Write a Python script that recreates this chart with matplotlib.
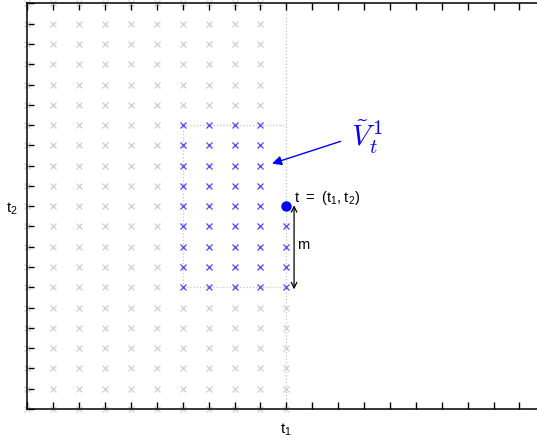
"""Lattice sketch: past window V_t^1 around the point t = (t1, t2)."""
import numpy as np
import matplotlib.pyplot as plt

plt.rcParams['font.family'] = ['Liberation Sans', 'DejaVu Sans']

# ---- data ----
grid_cols = list(range(0, 11))      # observed columns
grid_rows = list(range(0, 21))      # observed rows
t1, t2 = 10, 10                     # the point t
m = 4                               # window depth
win_cols = [6, 7, 8, 9]             # full columns of the window
win_rows = list(range(6, 15))       # rows 6..14
cur_rows = [6, 7, 8, 9]             # rows below t in column t1
x_max, y_max = 20, 20

# build point sets
blue = [(c, r) for c in win_cols for r in win_rows] + [(t1, r) for r in cur_rows]
blue_set = set(blue)
grey = [(c, r) for c in grid_cols for r in grid_rows
        if (c, r) not in blue_set and not (c == t1 and r >= t2)]

fig = plt.figure(figsize=(5.37, 4.38), dpi=100)
W, H = 537, 438
x0, y0 = 27.3, 409.0
dx, dy = 25.9, 20.28
ax = fig.add_axes([x0 / W, (H - y0) / H, dx * x_max / W, dy * y_max / H])
ax.set_xlim(0, x_max)
ax.set_ylim(0, y_max)

# dotted guides
gc = '#c4c4c4'
ax.plot([t1, t1], [0, y_max], ':', color=gc, lw=0.9, zorder=1)
ax.plot([win_cols[0], t1], [win_rows[-1], win_rows[-1]], ':', color=gc, lw=0.9, zorder=1)
ax.plot([win_cols[0], t1], [win_rows[0], win_rows[0]], ':', color=gc, lw=0.9, zorder=1)
ax.plot([win_cols[0], win_cols[0]], [win_rows[0], win_rows[-1]], ':', color=gc, lw=0.9, zorder=1)

gx, gy = zip(*grey)
ax.plot(gx, gy, 'x', color='#cfcfcf', ms=4.8, mew=0.9, ls='none', clip_on=False, zorder=2)
bx, by = zip(*blue)
ax.plot(bx, by, 'x', color='#4848ff', ms=4.8, mew=0.9, ls='none', clip_on=False, zorder=2)

# the point t
ax.plot([t1], [t2], 'o', color='#0000ff', ms=6.5, zorder=4)
ax.text(t1 + 0.3, t2 + 0.4, '$\\mathregular{t\\ =\\ (t_1,t_2)}$', fontsize=10.5, va='center', ha='left')

# depth arrow m
ax.annotate('', xy=(t1 + 0.3, t2 + 0.05), xytext=(t1 + 0.3, t2 - m - 0.1),
            arrowprops=dict(arrowstyle='<->', color='black', lw=0.9,
                            shrinkA=0, shrinkB=0, mutation_scale=10))
ax.text(t1 + 0.4, t2 - m + 2.1, 'm', fontsize=10.5, va='center', ha='left')

# window label
ax.annotate('', xy=(9.45, 12.1), xytext=(12.1, 13.2),
            arrowprops=dict(arrowstyle='-|>', color='#0000ff', lw=1.0,
                            shrinkA=0, shrinkB=0, mutation_scale=14))
ax.text(12.5, 13.4, '$\\tilde{V}_t^{\\,1}$', fontsize=21, color='#0000ff', va='center', ha='left',
        math_fontfamily='cm')

# axes styling
ax.set_xticks(range(0, x_max + 1))
ax.set_yticks(range(0, y_max + 1))
ax.set_xticklabels(['$\\mathregular{t_1}$' if v == t1 else '' for v in range(0, x_max + 1)], fontsize=11)
ax.set_yticklabels(['$\\mathregular{t_2}$' if v == t2 else '' for v in range(0, y_max + 1)], fontsize=11)
ax.tick_params(axis='x', pad=9)
ax.tick_params(axis='y', pad=7)
ax.tick_params(direction='in', length=5, width=1.0, top=True, right=False)
for s in ax.spines.values():
    s.set_linewidth(1.1)
ax.spines['right'].set_visible(False)

fig.savefig('out.png', dpi=100)
